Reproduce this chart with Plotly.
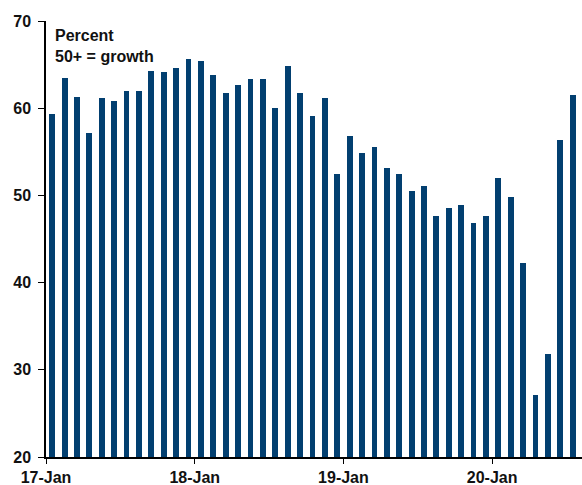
import plotly.graph_objects as go

months = [f"{m}-{y}" for y in (2017, 2018, 2019, 2020) for m in range(1, 13)][:43]
values = [59.3, 63.5, 61.3, 57.2, 61.2, 60.8, 62.0, 62.0, 64.3, 64.2, 64.6, 65.7,
          65.4, 63.8, 61.7, 62.7, 63.3, 63.4, 60.0, 64.8, 61.8, 59.1, 61.2, 52.5,
          56.8, 54.9, 55.5, 53.1, 52.5, 50.5, 51.1, 47.6, 48.5, 48.9, 46.8, 47.6,
          52.0, 49.8, 42.2, 27.1, 31.8, 56.4, 61.5]
tick_labels = ["17-Jan", "18-Jan", "19-Jan", "20-Jan"]
tick_pos = [-0.5, 11.5, 23.5, 35.5]

x = list(range(len(values)))

fig = go.Figure()
fig.add_trace(go.Bar(
    x=x, y=values, width=0.47,
    marker=dict(color="#023F70", line=dict(width=0)),
    customdata=months,
    hovertemplate="%{customdata}: %{y}<extra></extra>",
))

fam = "Liberation Sans, Arial, sans-serif"

fig.update_layout(
    width=582, height=485,
    margin=dict(l=46, r=0, t=21, b=28),
    paper_bgcolor="white", plot_bgcolor="white",
    showlegend=False,
    bargap=0,
    font=dict(family=fam, size=16, color="#111111"),
    xaxis=dict(
        range=[-0.5, 42.75],
        tickmode="array", tickvals=tick_pos, ticktext=tick_labels,
        showgrid=False, zeroline=False,
        showline=True, linecolor="black", linewidth=1.5,
        ticks="outside", ticklen=5, tickcolor="black", tickwidth=1,
        tickfont=dict(family=fam, size=16, color="#111111", weight="bold"),
    ),
    yaxis=dict(
        range=[20, 70],
        tickmode="array", tickvals=[20, 30, 40, 50, 60, 70],
        showgrid=False, zeroline=False,
        showline=True, linecolor="black", linewidth=1.5,
        ticks="outside", ticklen=6, tickcolor="black", tickwidth=1,
        ticklabelstandoff=4,
        tickfont=dict(family=fam, size=16, color="#111111", weight="bold"),
    ),
    annotations=[dict(
        xref="paper", yref="paper", x=0.013, y=0.99,
        xanchor="left", yanchor="top", align="left",
        text="<b>Percent</b><br><b>50+ = growth</b>",
        showarrow=False,
        font=dict(family=fam, size=16, color="#111111"),
    )],
)

fig.write_html("out.html")
